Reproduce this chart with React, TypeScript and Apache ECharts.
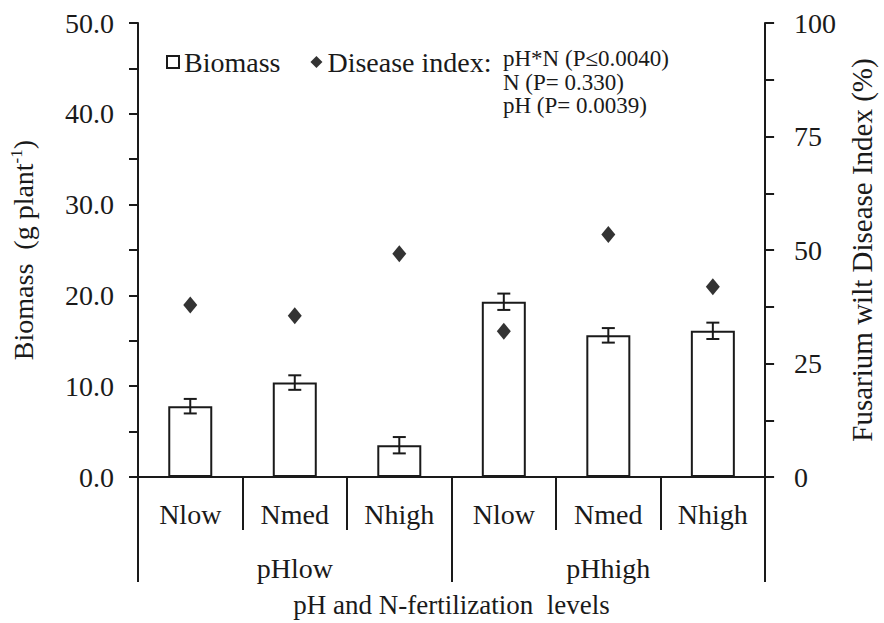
import React, { useEffect, useRef } from "react";
import * as echarts from "echarts";

const nLevels = ["Nlow", "Nmed", "Nhigh", "Nlow", "Nmed", "Nhigh"];
const phLevels = ["pHlow", "pHhigh"];
const biomass = [7.8, 10.4, 3.5, 19.3, 15.6, 16.1];
const biomassErr = [0.8, 0.8, 0.9, 0.9, 0.8, 0.9];
const diseaseIndex = [37.9, 35.5, 49.2, 32.1, 53.4, 41.9];
const statTexts = ["pH*N (P\u22640.0040)", "N (P= 0.330)", "pH (P= 0.0039)"];

const FONT = "'Liberation Serif', serif";
const INK = "#1a1a1a";

export default function App() {
  const ref = useRef<HTMLDivElement>(null);
  useEffect(() => {
    if (!ref.current) return;
    const chart = echarts.init(ref.current, undefined, { renderer: "svg" });
    const errData = biomass.map((v, i) => [i, v, biomassErr[i]]);
    const txt = (size: number) => ({ fontFamily: FONT, fontSize: size, color: INK });
    chart.setOption({
      animation: false,
      backgroundColor: "#fff",
      grid: { left: 137, right: 100, top: 23, bottom: 143, containLabel: false },
      legend: {
        left: 161,
        top: 43,
        itemWidth: 12,
        itemHeight: 12,
        itemGap: 30,
        selectedMode: false,
        textStyle: txt(28),
        formatter: (n: string) => (n === "Disease index" ? "Disease index:" : n),
        data: [
          { name: "Biomass", icon: "rect" },
          { name: "Disease index", icon: "diamond" },
        ],
      },
      graphic: statTexts.map((t, i) => ({
        type: "text",
        left: 503,
        top: 47 + i * 23.5,
        style: { text: t, fontFamily: FONT, fontSize: 23, fill: INK },
      })),
      xAxis: [
        {
          type: "category",
          data: nLevels,
          position: "bottom",
          axisLine: { show: true, lineStyle: { color: INK, width: 2 } },
          axisTick: { show: true, interval: 0, length: 53, lineStyle: { color: INK, width: 2 } },
          axisLabel: { interval: 0, margin: 23, ...txt(28) },
          splitLine: { show: false },
        },
        {
          type: "category",
          data: phLevels,
          position: "bottom",
          axisLine: { show: false },
          axisTick: { show: true, interval: 0, length: 105, lineStyle: { color: INK, width: 2 } },
          axisLabel: { interval: 0, margin: 77, ...txt(28) },
          name: "pH and N-fertilization  levels",
          nameLocation: "middle",
          nameGap: 114,
          nameTextStyle: txt(27),
          splitLine: { show: false },
        },
      ],
      yAxis: [
        {
          type: "value",
          min: 0,
          max: 50,
          interval: 5,
          position: "left",
          axisLine: { show: true, lineStyle: { color: INK, width: 2 } },
          axisTick: { show: true, length: 9, lineStyle: { color: INK, width: 2 } },
          axisLabel: {
            margin: 24,
            ...txt(28),
            formatter: (v: number) => (v % 10 === 0 ? v.toFixed(1) : ""),
          },
          splitLine: { show: false },
          name: "{a|Biomass  (g plant}{s|-1}{a|)}",
          nameLocation: "middle",
          nameGap: 100,
          nameRotate: 90,
          nameTextStyle: {
            ...txt(28),
            rich: {
              a: { ...txt(28), lineHeight: 30 },
              s: { ...txt(17), verticalAlign: "top", lineHeight: 30 },
            },
          },
        },
        {
          type: "value",
          min: 0,
          max: 100,
          interval: 12.5,
          position: "right",
          axisLine: { show: true, lineStyle: { color: INK, width: 2 } },
          axisTick: { show: true, length: 9, lineStyle: { color: INK, width: 2 } },
          axisLabel: {
            margin: 29,
            ...txt(28),
            formatter: (v: number) => (v % 25 === 0 ? String(v) : ""),
          },
          splitLine: { show: false },
          name: "Fusarium wilt Disease Index (%)",
          nameLocation: "middle",
          nameGap: 72,
          nameRotate: 90,
          nameTextStyle: txt(29),
        },
      ],
      series: [
        {
          name: "Biomass",
          type: "bar",
          xAxisIndex: 0,
          yAxisIndex: 0,
          data: biomass,
          barWidth: 44,
          itemStyle: { color: "#fff", borderColor: INK, borderWidth: 2 },
          z: 2,
        },
        {
          name: "BiomassErr",
          type: "custom",
          xAxisIndex: 0,
          yAxisIndex: 0,
          data: errData,
          z: 3,
          renderItem: (params: any, api: any) => {
            const idx = api.value(0);
            const v = api.value(1);
            const e = api.value(2);
            const top = api.coord([idx, v + e]);
            const bot = api.coord([idx, v - e]);
            const cap = 6.5;
            const style = { stroke: INK, lineWidth: 2 };
            return {
              type: "group",
              children: [
                { type: "line", shape: { x1: top[0], y1: top[1], x2: bot[0], y2: bot[1] }, style },
                { type: "line", shape: { x1: top[0] - cap, y1: top[1], x2: top[0] + cap, y2: top[1] }, style },
                { type: "line", shape: { x1: bot[0] - cap, y1: bot[1], x2: bot[0] + cap, y2: bot[1] }, style },
              ],
            };
          },
        },
        {
          name: "Disease index",
          type: "scatter",
          xAxisIndex: 0,
          yAxisIndex: 1,
          data: diseaseIndex,
          symbol: "diamond",
          symbolSize: [14, 17],
          itemStyle: { color: "#000" },
          z: 4,
        },
      ],
    });
    return () => chart.dispose();
  }, []);
  return (
    <div
      ref={ref}
      style={{ position: "fixed", left: 0, top: 0, width: 884, height: 623, background: "#fff" }}
    />
  );
}
